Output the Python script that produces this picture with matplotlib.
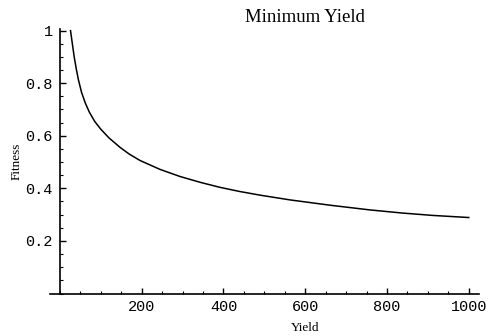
import matplotlib
matplotlib.use("Agg")
import matplotlib.pyplot as plt
from matplotlib.ticker import MultipleLocator, FixedLocator

# Data
yield_vals = [26, 30, 35, 40, 45, 53, 62, 72, 85, 100, 120, 147, 170, 196,
              245, 294, 343, 391, 440, 490, 563, 660, 758, 838, 912, 1000]
fitness_vals = [1.0, 0.955, 0.90, 0.855, 0.815, 0.765, 0.725, 0.69, 0.655,
                0.625, 0.592, 0.556, 0.53, 0.506, 0.472, 0.445, 0.423, 0.404,
                0.388, 0.374, 0.356, 0.336, 0.318, 0.306, 0.297, 0.289]
x_ticks = [200, 400, 600, 800, 1000]
x_tick_labels = ["200", "400", "600", "800", "1000"]
y_ticks = [0.2, 0.4, 0.6, 0.8, 1.0]
y_tick_labels = ["0.2", "0.4", "0.6", "0.8", "1"]

fig = plt.figure(figsize=(4.95, 3.36), dpi=100)
ax = fig.add_axes([50 / 495, 1 - 293.5 / 336, (479 - 50) / 495, (293.5 - 28) / 336])

ax.plot(yield_vals, fitness_vals, color="black", lw=1.1)

ax.set_xlim(-24.2, 1025)
ax.set_ylim(0, 1.01)

for s in ["top", "right"]:
    ax.spines[s].set_visible(False)
ax.spines["left"].set_position(("data", 0))
ax.spines["bottom"].set_position(("data", 0))
ax.spines["left"].set_bounds(0, 1.005)
for s in ["left", "bottom"]:
    ax.spines[s].set_linewidth(1.2)
    ax.spines[s].set_color("black")

ax.xaxis.set_major_locator(FixedLocator(x_ticks))
ax.yaxis.set_major_locator(FixedLocator(y_ticks))
ax.set_xticklabels(x_tick_labels)
ax.set_yticklabels(y_tick_labels)
ax.xaxis.set_minor_locator(MultipleLocator(50))
ax.yaxis.set_minor_locator(MultipleLocator(0.05))

mono = "Liberation Mono"
ax.tick_params(axis="both", which="major", direction="in", length=4, width=1,
               labelsize=11, pad=5)
ax.tick_params(axis="both", which="minor", direction="in", length=2, width=0.8)
for lab in ax.get_xticklabels() + ax.get_yticklabels():
    lab.set_family(mono)

fig.text(305 / 495, 1 - 17 / 336, "Minimum Yield", family="Liberation Serif",
         fontsize=13.5, ha="center", va="center")
fig.text(305 / 495, 1 - 328 / 336, "Yield", family="Liberation Serif",
         fontsize=9.5, ha="center", va="center")
fig.text(17 / 495, 1 - 161 / 336, "Fitness", family="Liberation Serif",
         fontsize=9.5, ha="center", va="center", rotation=90)

fig.savefig("out.png", dpi=100)
